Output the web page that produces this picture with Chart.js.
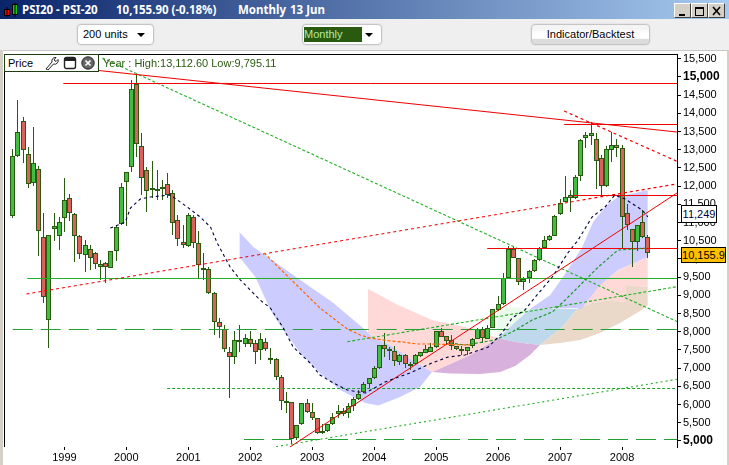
<!DOCTYPE html>
<html>
<head>
<meta charset="utf-8">
<title>PSI20</title>
<script src="https://cdn.jsdelivr.net/npm/chart.js@4"></script>
<style>
  html, body { margin: 0; padding: 0; }
  body { width: 729px; height: 465px; position: relative; overflow: hidden; background: #fff; font-family: "Liberation Sans", sans-serif; }
  canvas { position: absolute; left: 0; top: 0; }
  .abs { position: absolute; white-space: nowrap; }
  #titlebar { left: 0; top: 0; width: 729px; height: 19px; background: linear-gradient(90deg, #0a246a, #a6caf0); color: #fff; font: bold 11.5px "Noto Sans", sans-serif; line-height: 20px; }
  #toolbar { left: 0; top: 19px; width: 729px; height: 31px; background: #efefef; border-bottom: 1px solid #c8c8c8; }
  .pick { top: 24px; height: 19px; border: 1px solid #c4c4c4; border-radius: 4px; background: #fff; box-shadow: 0 0 0 1px #e6e6e6; font-size: 11px; line-height: 19px; }
  .arrow { position: absolute; right: 8px; top: 8px; width: 0; height: 0; border-left: 4px solid transparent; border-right: 4px solid transparent; border-top: 4px solid #000; }
  .winbtn { top: 3px; width: 15px; height: 13px; background: #d4d0c8; border: 1px solid; border-color: #fff #404040 #404040 #fff; }
  #leftstrip { left: 0; top: 50px; width: 3px; height: 415px; background: #d4d0c8; }
  #rightstrip { left: 727px; top: 50px; width: 2px; height: 415px; background: #d4d0c8; }
  #frame { left: 4px; top: 54px; width: 673px; height: 393px; border-left: 1px solid #000; border-top: 1px solid #000; box-sizing: border-box; }
  #pricebox { left: 4px; top: 54px; width: 95px; height: 18px; box-sizing: border-box; background: #fff; border: 1px solid #1e3d10; font-size: 11px; line-height: 16px; padding-left: 3px; }
  #yearline { left: 103px; top: 56px; color: #2a5a10; font-size: 11px; line-height: 14px; }
  .tag { font-size: 11px; text-align: center; border: 1px solid #000; box-sizing: border-box; }
</style>
</head>
<body>
<div id="frame" class="abs"></div>
<canvas id="myChart" width="729" height="465"></canvas>

<div id="titlebar" class="abs">
  <svg class="abs" style="left:4px;top:3px" width="15" height="14"><rect x="0.5" y="6.5" width="5" height="6" fill="#f00" stroke="#000"/><line x1="3" y1="4" x2="3" y2="14" stroke="#000"/><rect x="8.5" y="1.5" width="5" height="10" fill="#1c1" stroke="#000"/><line x1="11" y1="0" x2="11" y2="14" stroke="#000"/></svg>
  <span class="abs" style="left:22px">PSI20 - PSI-20</span>
  <span class="abs" style="left:116px">10,155.90 (-0.18%)</span>
  <span class="abs" style="left:238px">Monthly</span>
  <span class="abs" style="left:290px">13 Jun</span>
</div>
<div class="abs winbtn" style="left:674px"><svg width="15" height="13"><rect x="4" y="9" width="6" height="2"/></svg></div>
<div class="abs winbtn" style="left:691px"><svg width="15" height="13"><rect x="3.5" y="2.5" width="8" height="8" fill="none" stroke="#000"/><rect x="3" y="2" width="9" height="2"/></svg></div>
<div class="abs winbtn" style="left:708px"><svg width="15" height="13"><path d="M4 2 L11 10 M11 2 L4 10" stroke="#000" stroke-width="1.6"/></svg></div>

<div id="toolbar" class="abs"></div>
<div class="abs pick" style="left:77px;padding-left:5px;width:70px">200 units<span class="arrow"></span></div>
<div class="abs pick" style="left:302px;width:78px"><span class="abs" style="left:1px;top:2px;width:58px;height:15px;line-height:15px;background:#2a5a10;color:#b8e8a0">Monthly</span><span class="arrow"></span></div>
<div class="abs pick" style="left:531px;width:117px;text-align:center;background:linear-gradient(#f4f4f4 20%,#fff 45%,#fff 70%,#dcdcdc 75%)">Indicator/Backtest</div>

<div id="leftstrip" class="abs"></div>
<div id="rightstrip" class="abs"></div>

<div id="pricebox" class="abs">Price
  <svg class="abs" style="left:39px;top:1px" width="15" height="14"><path d="M2 13 L8 6 A3.5 3.5 0 0 1 12 1.5 L10 4 L12 5.5 L14 3.5 A3.5 3.5 0 0 1 9.5 8 L4 14 Z" fill="#fff" stroke="#222"/></svg>
  <svg class="abs" style="left:58px;top:1px" width="14" height="14"><rect x="1.5" y="1.5" width="11" height="11" rx="2" fill="#fff" stroke="#222" stroke-width="1.4"/><rect x="2" y="2" width="10" height="3" fill="#222"/></svg>
  <svg class="abs" style="left:76px;top:1px" width="14" height="14"><circle cx="7" cy="7" r="6.2" fill="#666" stroke="#222"/><path d="M4.5 4.5 L9.5 9.5 M9.5 4.5 L4.5 9.5" stroke="#fff" stroke-width="1.6"/></svg>
</div>
<div id="yearline" class="abs">Year : High:13,112.60 Low:9,795.11</div>
<div class="abs tag" style="left:681px;top:205px;width:36px;height:18px;line-height:16px;background:#fff;color:#000040">11,249</div>
<div class="abs tag" style="left:681px;top:247px;width:45px;height:16px;line-height:14px;background:#ffc000;color:#000">10,155.9</div>

<script>
// months counted from Jan 1999, first candle is Mar 1998
const firstMonth = -10;
const opens = [11189,12837,13790,12892,12079,12463,10595,8315,10815,10639,11134,11667,11227,10639,10101,10282,10156,9788,9881,9760,10211,10952,12106,12518,14798,13090,12436,11895,11875,11969,12051,11804,11065,10458,10365,11145,10430,9697,9716,9057,8261,8076,7436,7299,7719,7656,7793,7684,7499,7711,7225,7244,6749,6044,6063,5090,5458,6035,5788,5623,5219,5266,5467,5733,5741,5761,5970,6145,6338,6557,6722,6997,7628,7518,7480,7178,7370,7060,7107,7326,7425,7453,7574,8013,7876,7774,7601,7472,7480,7609,7810,8068,7810,8112,8590,8755,9486,10274,10019,9376,9477,9661,9972,10310,10521,10639,11227,11573,11749,11680,12287,13315,13386,13287,12765,12013,13002,13123,13040,11271,10815,10475,11024,10595];
const highs = [13021,14367,13908,13084,13634,12562,11263,10658,11263,11161,12216,11785,11263,10658,10521,10384,10192,9972,9925,10219,10933,12079,12389,14916,15081,13452,12518,12691,12444,12169,12362,11895,11208,10933,11263,11208,10768,10156,9788,9101,8379,8186,7590,8030,8186,7931,8030,7774,7958,7837,7563,7271,6813,6354,6079,5439,6044,6145,6052,5640,5458,5467,5777,5989,5906,6035,6200,6401,6621,6730,7068,7637,7958,7590,7609,7390,7390,7178,7390,7445,7637,7692,8021,8096,7884,7912,7609,7609,7582,7829,8104,8139,8186,8626,8983,9606,10356,10337,10027,9505,9697,9999,10329,10639,10658,11208,11647,12279,11895,12307,13287,13496,13754,13452,12856,13112,13496,13287,13131,11502,10823,10933,11345,10658];
const lows = [11134,12809,12636,11958,12013,10082,8799,7546,10494,10247,10733,11051,9925,9999,9650,9697,9725,9422,9348,9760,9936,10933,10906,12397,12809,11757,11299,11675,11620,11620,11675,10658,10356,10293,10329,10293,9450,9422,9038,7912,7829,7453,6173,7107,7445,7574,7590,7115,7225,7480,7115,6675,5851,5761,4917,5027,5439,5769,5576,5184,5184,5247,5439,5631,5695,5631,5832,6126,6318,6456,6703,6978,7315,7225,7068,7087,7005,6950,7087,7307,7417,7445,7554,7857,7637,7499,7499,7362,7362,7546,7802,7684,7802,8104,8571,8736,9477,10027,9285,9148,9340,9642,9944,10301,10494,10631,11208,11565,11299,11661,12142,13048,13131,11922,11757,11985,12672,12809,10301,10796,9788,10219,10577,10035];
const closes = [12837,13480,12993,12051,12645,10760,8947,10658,10906,11007,11612,11255,10639,10128,10376,10035,9854,9862,9771,10211,10887,11969,12381,14661,13150,12232,11859,11950,11930,11914,11757,10980,10562,10392,11208,10447,9834,9752,9074,8261,8139,7518,7299,7766,7774,7821,7656,7436,7793,7518,7280,6766,6107,6098,5055,5431,6035,5788,5623,5228,5274,5458,5667,5816,5832,5970,6145,6283,6557,6722,6997,7628,7527,7464,7206,7370,7107,7115,7362,7436,7518,7574,8013,7865,7755,7609,7518,7527,7574,7802,8068,7821,8096,8617,8755,9469,10274,10035,9376,9442,9661,9972,10293,10521,10639,11189,11551,11694,11667,12244,13260,13397,13452,12699,12013,13013,13131,13040,11161,10933,10475,10925,10595,10156];

// axis ticks
const yearMonths = [0,12,24,36,48,60,72,84,96,108];
const yearLabels = ["1999","2000","2001","2002","2003","2004","2005","2006","2007","2008"];
const priceTicks = [5000,5500,6000,6500,7000,7500,8000,8500,9000,9500,10000,10500,11000,11500,12000,12500,13000,13500,14000,14500,15000,15500];
const boldTicks = [5000,15000];

// moving averages, [month, price]
const blackAverage = [[8.9,10851],[11.8,11016],[12.8,11400],[14.7,11647],[16.6,11702],[20.5,11757],[21.9,11620],[23.8,11428],[26.3,11153],[28.3,10878],[29.6,10439],[32.1,9779],[34.1,9422],[37.9,8873],[39.9,8653],[42.4,8104],[44.3,7582],[47.6,7142],[49.5,6813],[52.1,6593],[54.8,6401],[58.3,6318],[62.1,6620],[67.4,6895],[71.2,7142],[74.3,7307],[77.6,7362],[82.1,7582],[84.8,7967],[86.7,8378],[89.2,8598],[91.2,8955],[94.5,9505],[97.5,10164],[99.5,10521],[102.2,11153],[104.7,11428],[106.6,11757],[108.6,11647],[111.9,11345],[113,11153]];
const orangeAverage = [[38.7,10164],[42.4,9642],[49.5,8653],[54.8,8076],[57.3,7912],[59.2,7829],[63.1,7747],[65.6,7719],[68.3,7664],[70.8,7664],[79,7637]];
const greenAverage = [[74.7,7692],[77.6,7637],[83.4,7774],[86.7,7994],[90.6,8324],[94.5,8543],[97,8873],[100.3,9340],[103.4,9779],[107.2,10246],[113,10301]];

// drawn lines, [month, price]
const redFall = [[2.1,15246],[118.65,13488]];
const redTop = [[-0.2,14821],[118.65,14821]];
const red13700 = [[96.8,13694],[118.65,13694]];
const red11750 = [[98.7,11744],[118.65,11744]];
const red10300 = [[81.9,10288],[118.65,10288]];
const redRise = [[43.7,4836],[118.65,11813]];
const redDashRise = [[-7.35,9038],[118.65,12060]];
const redDashFall = [[96.8,14065],[118.65,12683]];
const green9470 = [[-7.2,9464],[118.65,9464]];
const greenFall = [[7.35,15521],[118.65,8283]];
const green8060 = [[-10,8063],[118.65,8063]];
const green5040 = [[34.8,5041],[118.65,5041]];
const green6440 = [[19.9,6442],[118.65,6442]];
const greenDotRise = [[41,4843],[118.65,6695]];
const greenDashRise = [[54.8,7728],[118.65,9239]];

// shaded bands, [month, price]
const lavLeftTop = [[33.9,10741],[36.6,10329],[42.4,9752],[45.7,9423],[52.1,8791],[58.3,8049],[59.6,7857],[63.1,7637],[67.9,7170],[71.2,6895]];
const lavLeftBottom = [[33.9,10054],[37,9505],[39.9,8598],[42.4,8049],[45.7,7417],[49.5,6868],[53.4,6401],[58.3,6044],[60.8,5975],[65,6209],[68.9,6483],[71.2,6895]];
const pinkLeftTop = [[58.8,9175],[64.6,8736],[71.2,8324],[77.6,8132],[84,7829]];
const pinkLeftBottom = [[58.8,7884],[63.1,7637],[67.9,7170],[71.2,6895],[78.6,7362],[84,7829]];
const purpleTop = [[71.2,6895],[78.6,7362],[84,7829],[87.3,7720],[92.1,7637]];
const purpleBottom = [[71.2,6895],[74.7,6854],[80.5,6840],[84.4,6895],[87.3,7060],[90.2,7362],[92.1,7637]];
const paleTop = [[83.8,8681],[90.2,8654]];
const paleBottom = [[83.8,7829],[87.3,8269],[90.2,8626]];
const blueGreenTop = [[84,7829],[87.3,8269],[90.2,8626],[100.3,8654]];
const blueGreenBottom = [[84,7829],[87.3,7720],[92.1,7637],[96.4,8132],[99.5,8654],[100.3,8654]];
const lavRightTop = [[90.2,8626],[94.1,9011],[97.5,9697],[100.3,10329],[102.4,11016],[105.1,11483],[107.2,11703],[113,11895]];
const lavRightBottom = [[90.2,8626],[100.3,8654],[103.4,9230],[107.2,9697],[113,10054]];
const pinkRightTop = [[99.5,8654],[103.4,9230],[107.2,9697],[113,10054]];
const pinkRightBottom = [[99.5,8654],[102.2,8791],[106.1,8873],[108.6,8818],[108.8,9285],[113,9230]];
const tanTop = [[92.1,7637],[96.4,8132],[99.5,8654],[102.2,8791],[106.1,8873],[108.6,8818],[108.8,9285],[113,9230]];
const tanBottom = [[92.1,7637],[96,7692],[99.9,7774],[103.7,7967],[107.6,8241],[111.5,8571],[113,8736]];

const xy = (pairs) => pairs.map((p) => ({ x: p[0], y: p[1] }));

const lineSet = (pairs, color, dash, width) => ({
  type: "line",
  data: xy(pairs),
  borderColor: color,
  borderWidth: width || 1,
  borderDash: dash || [],
  pointRadius: 0,
  fill: false,
  order: 1,
});

const bandSets = (top, bottom, color) => [
  { type: "line", data: xy(top), borderWidth: 0, pointRadius: 0, backgroundColor: color, fill: "+1", order: 5 },
  { type: "line", data: xy(bottom), borderWidth: 0, pointRadius: 0, fill: false, order: 5 },
];

const wickData = highs.map((h, i) => ({ x: firstMonth + i, y: [lows[i], h] }));
const bodyData = opens.map((o, i) => ({ x: firstMonth + i, y: [o, closes[i]] }));

const candleEdge = "#2a5a10";

const datasets = [
  ...bandSets(lavLeftTop, lavLeftBottom, "#ccccff"),
  ...bandSets(pinkLeftTop, pinkLeftBottom, "#ffd8d8"),
  ...bandSets(purpleTop, purpleBottom, "#d8b2dc"),
  ...bandSets(paleTop, paleBottom, "#ebfbeb"),
  ...bandSets(blueGreenTop, blueGreenBottom, "#bfd8ec"),
  ...bandSets(lavRightTop, lavRightBottom, "#ccccff"),
  ...bandSets(pinkRightTop, pinkRightBottom, "#ffd8d8"),
  ...bandSets(tanTop, tanBottom, "#ead9c8"),
  {
    type: "bar",
    data: wickData,
    backgroundColor: candleEdge,
    borderWidth: 0,
    barThickness: 1,
    inflateAmount: 0,
    order: 3,
  },
  {
    type: "bar",
    data: bodyData,
    backgroundColor: (ctx) => (closes[ctx.dataIndex] >= opens[ctx.dataIndex] ? "#42bd42" : "#d9625a"),
    borderColor: candleEdge,
    borderWidth: 1,
    borderSkipped: false,
    barThickness: 5,
    inflateAmount: 0,
    order: 2,
  },
  lineSet(blackAverage, "#000040", [3, 3], 1.1),
  lineSet(orangeAverage, "#ff6600", [3, 2], 1.2),
  lineSet(greenAverage, "#1f9a2a", [3, 2], 1.2),
  lineSet(redFall, "#f00000", [], 1.1),
  lineSet(redTop, "#f00000"),
  lineSet(red13700, "#f00000"),
  lineSet(red11750, "#f00000"),
  lineSet(red10300, "#f00000"),
  lineSet(redRise, "#f00000", [], 1),
  lineSet(redDashRise, "#f00000", [3, 3], 1.2),
  lineSet(redDashFall, "#f00000", [3, 3], 1.2),
  lineSet(green9470, "#22b022"),
  lineSet(greenFall, "#22b022", [3, 2], 1.1),
  lineSet(green8060, "#22a032", [20, 8]),
  lineSet(green5040, "#22a032", [20, 8]),
  lineSet(green6440, "#22a032", [3, 2]),
  lineSet(greenDotRise, "#22b022", [2, 3], 1.1),
  lineSet(greenDashRise, "#22b022", [3, 2], 1.1),
];

// snap candle bars to whole pixels so they stay crisp
const snapBars = {
  id: "snapBars",
  afterDatasetsUpdate(chart) {
    chart.data.datasets.forEach((ds, i) => {
      const meta = chart.getDatasetMeta(i);
      if (meta.type !== "bar") return;
      meta.data.forEach((el) => {
        el.x = Math.floor(el.x) + 0.5;
        el.y = Math.round(el.y);
        el.base = Math.round(el.base);
      });
    });
  },
};

var ctx = document.getElementById("myChart").getContext("2d");
var myChart = new Chart(ctx, {
  type: "bar",
  data: { datasets: datasets },
  plugins: [snapBars],
  options: {
    responsive: false,
    animation: false,
    events: [],
    grouped: false,
    layout: { padding: { left: 5, top: 54, right: 0, bottom: 0 } },
    plugins: { legend: { display: false }, tooltip: { enabled: false } },
    scales: {
      x: {
        type: "linear",
        offset: false,
        min: -11.5,
        max: 118.65,
        afterFit: (scale) => { scale.height = 18; },
        afterBuildTicks: (scale) => { scale.ticks = yearMonths.map((v) => ({ value: v })); },
        grid: { display: true, drawOnChartArea: false, tickColor: "#000", tickLength: 3, offset: false },
        border: { display: false },
        ticks: {
          color: "#000",
          padding: 1,
          maxRotation: 0,
          autoSkip: false,
          font: { family: "Liberation Sans", size: 11 },
          callback: (v) => yearLabels[yearMonths.indexOf(v)],
        },
      },
      y: {
        position: "right",
        min: 4835,
        max: 15631,
        beginAtZero: false,
        afterFit: (scale) => { scale.width = 52; },
        afterBuildTicks: (scale) => { scale.ticks = priceTicks.map((v) => ({ value: v })); },
        grid: { display: true, drawOnChartArea: false, tickColor: "#000", tickLength: 4 },
        border: { display: true, color: "#000", width: 1 },
        ticks: {
          color: "#000",
          padding: 2,
          autoSkip: false,
          font: (c) =>
            c.tick && boldTicks.includes(c.tick.value)
              ? { family: "Liberation Sans", size: 12, weight: "bold" }
              : { family: "Liberation Sans", size: 11 },
          callback: (v) => v.toLocaleString("en-US"),
        },
      },
    },
  },
});
</script>
</body>
</html>
